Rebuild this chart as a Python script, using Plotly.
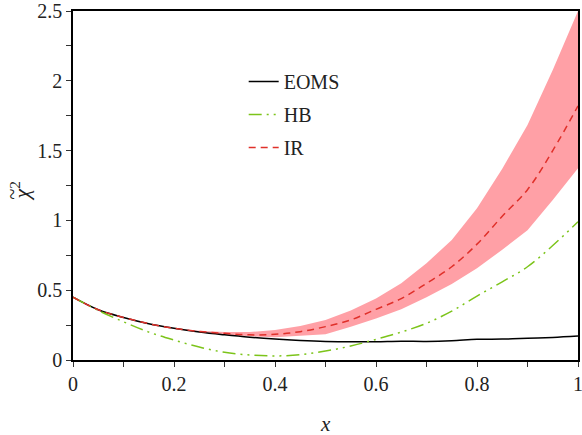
import plotly.graph_objects as go

x = [0.0, 0.05, 0.1, 0.15, 0.2, 0.25, 0.3, 0.35, 0.4, 0.45, 0.5,
     0.55, 0.6, 0.65, 0.7, 0.75, 0.8, 0.85, 0.9, 0.95, 1.0]

eoms = [0.45, 0.36, 0.305, 0.26, 0.227, 0.20, 0.18, 0.163, 0.150, 0.140, 0.133,
        0.130, 0.131, 0.134, 0.133, 0.138, 0.148, 0.150, 0.155, 0.162, 0.172]

hb = [0.45, 0.355, 0.274, 0.20, 0.143, 0.093, 0.055, 0.036, 0.029, 0.038, 0.064,
      0.10, 0.148, 0.20, 0.263, 0.35, 0.458, 0.56, 0.668, 0.82, 0.99]

ir = [0.45, 0.36, 0.305, 0.26, 0.227, 0.205, 0.191, 0.18, 0.184, 0.203, 0.239,
      0.287, 0.363, 0.44, 0.549, 0.668, 0.83, 1.03, 1.22, 1.50, 1.82]

ir_upper = [0.45, 0.36, 0.305, 0.26, 0.23, 0.21, 0.20, 0.20, 0.215, 0.243, 0.287,
            0.355, 0.44, 0.549, 0.693, 0.86, 1.087, 1.37, 1.683, 2.077, 2.5]

ir_lower = [0.45, 0.36, 0.305, 0.26, 0.225, 0.20, 0.183, 0.17, 0.163, 0.172, 0.184,
            0.239, 0.298, 0.363, 0.449, 0.544, 0.657, 0.79, 0.93, 1.146, 1.373]

FONT = "Liberation Serif, Times New Roman, Times, serif"
TXT = "#222"

fig = go.Figure()
fig.add_trace(go.Scatter(x=x, y=ir_lower, mode="lines", line=dict(width=0),
                         showlegend=False, hoverinfo="skip"))
fig.add_trace(go.Scatter(x=x, y=ir_upper, mode="lines", line=dict(width=0),
                         fill="tonexty", fillcolor="#ffa0a6",
                         showlegend=False, hoverinfo="skip"))
fig.add_trace(go.Scatter(x=x, y=eoms, mode="lines", name="EOMS",
                         line=dict(color="black", width=1.5, shape="spline"),
                         legendgroup="a"))
fig.add_trace(go.Scatter(x=x, y=hb, mode="lines", name="HB",
                         line=dict(color="#7cc41a", width=1.5, shape="spline",
                                   dash="13px,5px,2px,5px,2px,5px"),
                         legendgroup="b"))
fig.add_trace(go.Scatter(x=x, y=ir, mode="lines", name="IR",
                         line=dict(color="#e0302a", width=1.5, shape="spline",
                                   dash="7px,5px"),
                         legendgroup="c"))

axis_common = dict(
    showline=True, linecolor="black", linewidth=1.5, mirror=True,
    ticks="outside", ticklen=5, tickwidth=1, tickcolor="#333",
    showgrid=False, zeroline=False, automargin=False,
    ticklabeloverflow="allow",
    tickfont=dict(family=FONT, size=20, color=TXT),
)

fig.update_xaxes(range=[0, 1], dtick=0.2, tick0=0,
                 minor=dict(ticks="outside", ticklen=5, dtick=0.1, tickcolor="#333"),
                 **axis_common)
fig.update_yaxes(range=[0, 2.5], dtick=0.5, tick0=0,
                 minor=dict(ticks="outside", ticklen=5, dtick=0.25, tickcolor="#333"),
                 **axis_common)

# axis titles
fig.add_annotation(text="<i>x</i>", xref="paper", yref="paper", x=0.5, y=0,
                   xanchor="center", yanchor="middle", yshift=-64, showarrow=False,
                   font=dict(family=FONT, size=21, color=TXT))
fig.add_annotation(text="<i>χ</i><sup>2</sup>", xref="paper", yref="paper", x=0, y=0.5,
                   xanchor="center", yanchor="middle", xshift=-54, yshift=-6,
                   textangle=-90, showarrow=False,
                   font=dict(family=FONT, size=22, color=TXT))
fig.add_annotation(text="~", xref="paper", yref="paper", x=0, y=0.5,
                   xanchor="center", yanchor="middle", xshift=-62, yshift=-9,
                   textangle=-90, showarrow=False,
                   font=dict(family=FONT, size=20, color=TXT))

fig.update_layout(
    width=582, height=435,
    margin=dict(l=73, r=4, t=11, b=75),
    paper_bgcolor="white", plot_bgcolor="white",
    legend=dict(x=0.338, y=0.854, xanchor="left", yanchor="top",
                bgcolor="rgba(0,0,0,0)", tracegroupgap=4,
                font=dict(family=FONT, size=20, color=TXT)),
    font=dict(family=FONT),
)

fig.write_html("out.html", config={"displayModeBar": False},
               post_script="document.body.style.margin='0';document.body.style.overflow='hidden';")
